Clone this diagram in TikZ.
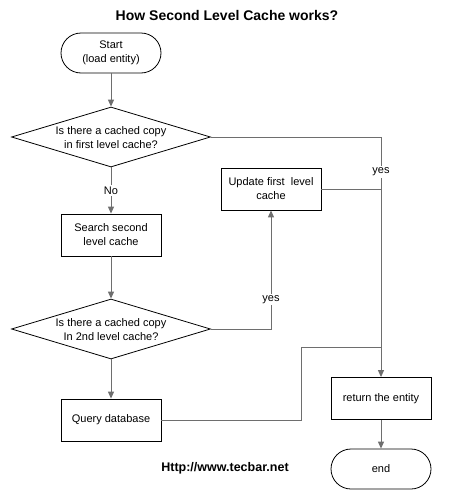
\documentclass[tikz,border=0pt]{standalone}
\usepackage{fontspec}
\setmainfont{Liberation Sans}
\usetikzlibrary{shapes.geometric,arrows.meta}
\begin{document}
\begin{tikzpicture}[x=1pt,y=-1pt,
  box/.style={draw=black,line width=0.8pt,minimum width=100pt,minimum height=42pt,inner sep=0pt,align=center,font=\fontsize{11}{14}\selectfont},
  term/.style={box,minimum height=40pt,rounded corners=20pt},
  decision/.style={draw=black,line width=0.8pt,diamond,aspect=3.3,minimum width=199pt,minimum height=60pt,inner sep=0pt},
  dtext/.style={align=center,font=\fontsize{11}{14}\selectfont,inner sep=0pt},
  conn/.style={draw={rgb,255:red,110;green,110;blue,110},line width=1pt},
  arr/.style={conn,-{Triangle[length=7pt,width=6pt]}},
  lbl/.style={fill=white,inner sep=1.5pt,font=\fontsize{11}{13}\selectfont}]
\useasboundingbox (0,0) rectangle (453,498);
\node[font=\bfseries\fontsize{14}{16}\selectfont] (title) at (227,15) {How Second Level Cache works?};
\node[term] (start) at (111,53) {Start\\(load entity)};
\node[decision] (d1) at (111,137) {};
\node[dtext] (d1t) at (111,138) {Is there a cached copy\\in first level cache?};
\node[box] (search) at (111,235) {Search second\\level cache};
\node[decision] (d2) at (111,329) {};
\node[dtext] (d2t) at (111,330) {Is there a cached copy\\In 2nd level cache?};
\node[box] (query) at (111,420) {Query database};
\node[box] (update) at (271,189) {Update first\ \ level\\cache};
\node[box] (ret) at (381,398.5) {return the entity};
\node[term] (end) at (381,469) {end};
\node[font=\bfseries\fontsize{12.5}{14}\selectfont] (url) at (225,468) {Http://www.tecbar.net};
\coordinate (j1) at (301,347);
\draw[arr] (start) -- (d1);
\draw[arr] (d1) -- node[lbl]{No} (search);
\draw[arr] (search) -- (d2);
\draw[arr] (d2) -- (query);
\draw[arr] (d2.east) -| node[lbl,pos=0.625]{yes} (update.south);
\draw[arr] (d1.east) -| node[lbl,pos=0.573]{yes} (ret.north);
\draw[conn] (update.east) -- (update.east -| ret.north);
\draw[conn] (query.east) -| (j1) -- (j1 -| ret.north);
\draw[arr] (ret) -- (end);
\end{tikzpicture}
\end{document}
